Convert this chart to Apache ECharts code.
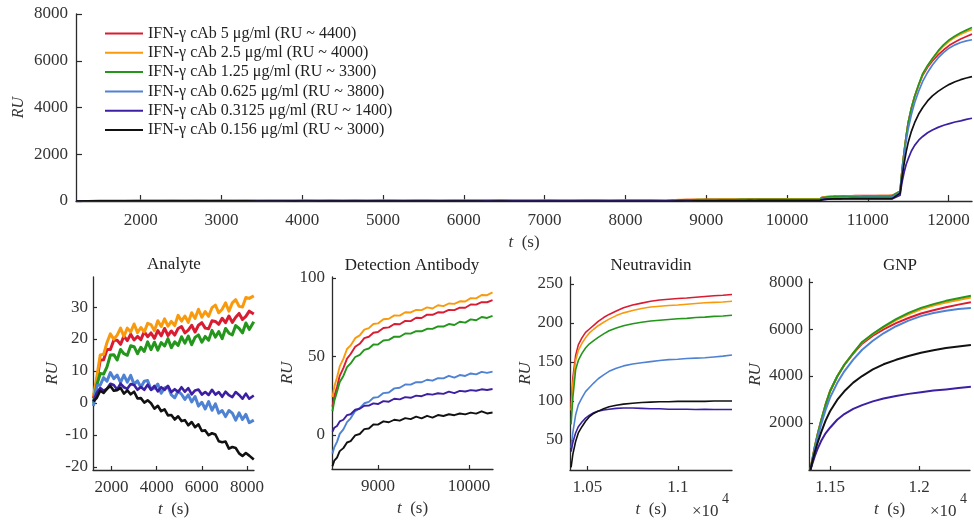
<!DOCTYPE html>
<html>
<head>
<meta charset="utf-8">
<script src="https://cdn.jsdelivr.net/npm/echarts@6/dist/echarts.min.js"></script>
<style>
html,body{margin:0;padding:0;background:#fff;}
#chart{width:974px;height:524px;}
</style>
</head>
<body>
<div id="chart"></div>
<script>
// ---------------- DATA ----------------
const seriesNames = [
  'IFN-γ cAb 5 μg/ml (RU ~ 4400)',
  'IFN-γ cAb 2.5 μg/ml (RU ~ 4000)',
  'IFN-γ cAb 1.25 μg/ml (RU ~ 3300)',
  'IFN-γ cAb 0.625 μg/ml (RU ~ 3800)',
  'IFN-γ cAb 0.3125 μg/ml (RU ~ 1400)',
  'IFN-γ cAb 0.156 μg/ml (RU ~ 3000)'
];
const panelTitles = ['Analyte', 'Detection Antibody', 'Neutravidin', 'GNP'];

// Analyte phase
const analyteTime = [1200,1350,1500,1650,1800,1950,2100,2250,2400,2550,2700,2850,3000,3150,3300,3450,3600,3750,3900,4050,4200,4350,4500,4650,4800,4950,5100,5250,5400,5550,5700,5850,6000,6150,6300,6450,6600,6750,6900,7050,7200,7350,7500,7650,7800,7950,8100,8300];
const analyte5    = [1.5,7,13.4,13.5,16.7,16.7,19.6,19.6,18.3,20.9,19.5,21.5,19.7,20.8,19.8,22.3,20.7,21.9,20.2,22.6,21,23.3,21.1,22.5,21.2,23.3,23.9,21.9,22.8,24.3,22.2,24.3,25.1,23.4,23.2,25.7,25.5,24.6,26.5,25.1,27.2,25.2,26.8,28,26.1,27.1,28.7,27.8];
const analyte2p5  = [2,8.2,15,15.2,18.9,21.6,19.9,21.2,23.4,20.8,23.4,22.2,24.7,22,23.6,22.2,24.9,24.5,22.6,25.7,23.9,26.3,24,25.5,24.2,27.4,25.6,27.2,25.2,28.2,26.4,29.3,26.8,28.6,27.1,29.8,30.6,28.2,29.3,31.3,28.7,31.3,32.3,30.2,30,33,32.7,33.5];
const analyte1p25 = [0,5.6,9.2,9,11.3,15,15.1,13.4,16.7,15.4,14.9,17.9,17.6,15.4,17.4,16.1,19.1,16.7,19,16.5,18.9,17.8,20.1,17.3,19.1,18,20.7,18.7,20.9,18.2,20.5,21.3,19,20.8,19.6,22.7,20.6,22.3,20.1,23.3,21.8,21.3,24.2,23.3,21.9,25,23,25.4];
const analyte0p625 = [-1,5.4,5.6,7.9,6.8,9.5,7.6,8.7,6.4,8.7,6.5,8.6,5.8,6.9,4.9,6.8,7,4.2,4.6,5.9,3,4.7,5.1,2.5,1.6,3.7,2.7,1.1,2.5,0.3,2,-1,0.2,-1.9,0.4,-2.3,-0.3,-3.2,-2.4,-4.3,-2.4,-3.2,-5.4,-3.1,-5.2,-3.6,-6.2,-5.4];
const analyte0p3125 = [0.5,3.2,4.7,3.8,4.4,6,5.6,4.2,6,4.9,4.4,5.9,5.6,4.1,5,4.1,5.7,4.1,5.3,3.6,4.9,4.1,5.3,3.4,4.3,3.4,4.9,3.5,4.6,2.7,3.9,4.2,2.6,3.4,2.5,4.1,2.6,3.4,1.9,3.5,2.4,1.8,3.4,2.5,1.3,2.9,1.3,2.3];
const analyte0p156 = [0.5,1.6,3.8,3.1,4.4,5.3,3.8,4,4.7,2.9,3.9,2.7,3.5,1.4,1.5,0.1,0.8,-0.1,-1.8,-0.9,-2.6,-2,-3.9,-3.8,-5.2,-4.2,-5.7,-5.4,-7,-6,-7.6,-6.7,-8.8,-8.6,-10.1,-9.5,-9.9,-12,-12.3,-12.1,-14.3,-13.8,-14.1,-15.8,-16.6,-15.7,-16.5,-17.7];

// Detection antibody phase
const daTime = [8500,8520,8550,8580,8620,8660,8700,8750,8800,8850,8900,8950,9000,9060,9120,9180,9240,9300,9360,9420,9480,9540,9600,9660,9720,9780,9840,9900,9960,10020,10080,10140,10200,10260];
const da5    = [18,24.5,30.5,37.6,42.5,48.6,51.5,56.1,58,61.6,62.5,65.1,65.5,68.1,68.5,70.6,70.5,72.6,72.5,74.6,74.5,76.6,76.5,78.1,78,79.6,79.5,81.1,81,83.1,83,84.6,84.5,85.8];
const da2p5  = [24,30.6,36.5,43.6,48.4,54.7,57,61.6,63.4,67.1,68,70.6,71,73.7,74,76.1,76,78.1,78,79.6,79.5,81.2,80.5,82.6,82,83.7,83.5,85.1,85,87.1,87,89.1,89,90.8];
const da1p25 = [15,21.5,27.5,33.6,37.5,43.1,45.5,49.6,51,54.1,55,57.6,57.5,60.1,60.5,62.6,62.5,64.6,64.5,66.1,66,67.6,67.5,69.1,69,70.6,70,72.1,71.5,73.6,73,75.1,74.5,75.8];
const da0p625 = [-12,-8,-4.5,0.6,3.5,8.1,10.5,15.1,17,20.1,21,23.6,24,26.6,27,29.6,30,32.1,32,33.6,33.5,35.1,34.5,36.1,36,37.6,36.5,38.1,37.5,39.1,38.5,40.1,39.5,40.3];
const da0p3125 = [2,4.5,5.6,8.5,9.6,12.5,13.1,16,16.6,18.5,18.6,20,19.6,21.5,21.1,23,22.6,24,23.6,25,24.6,26,25.6,26.5,26.1,27.5,26.6,28,27.6,28.5,28.1,29,28.6,29.2];
const da0p156 = [-20,-16.5,-14.5,-10.4,-8.5,-4.9,-4,-0.4,0.5,3.6,4,6.6,6.5,8.6,8,9.6,9,10.6,10,11.6,10.5,12.1,11,12.6,12,13.1,12.5,13.6,13,14.1,13.5,15,13.6,14.2];

// Neutravidin phase
const neutTime = [10410,10420,10435,10450,10470,10490,10510,10535,10560,10590,10620,10660,10700,10750,10800,10850,10900,10950,11000,11050,11100,11150,11200,11250,11300];
const neut5    = [95,130,158,172,181,188,192,197,202,207,211,215.5,219.5,223,225.5,228,229.5,230.5,231.5,232,233,234,235,235.5,236.5];
const neut2p5  = [88,122,152,165,174,181,187,192,196.5,201,205,209.5,213,216,218.5,220.5,221.5,222.5,223,224,225,226,226.5,227,228];
const neut1p25 = [70,105,140,152,161,168,173,177.5,181.5,186,190,193.5,196.5,199,201,202.5,203.5,204.5,205.5,206,207,207.5,208.5,209,210];
const neut0p625 = [40,60,82,95,104,112,117,123,128.5,133.5,138,142,145,147.5,149,150.5,152,153,153.5,154.5,155,155.5,156.5,157.5,159];
const neut0p3125 = [35,47,59,67,73,78,81.5,85,87,88.5,89.5,90.5,91,91,90.5,90,90,89.5,89.5,89.5,89,89.5,89,89,89];
const neut0p156 = [15,32,48,59,67,74,79.5,84,87,90,92.5,94.5,96,97,98,98.5,99,99,99.5,99.5,99.5,99.5,100,100,100];

// GNP phase
const gnpTime = [11390,11400,11415,11430,11450,11475,11500,11540,11580,11630,11680,11740,11800,11870,11940,12010,12080,12150,12220,12290];
const gnp5    = [0,420,1000,1500,2100,2780,3350,3980,4470,4950,5380,5720,5990,6250,6470,6660,6800,6930,7040,7140];
const gnp2p5  = [0,420,1000,1500,2100,2780,3350,3980,4480,4980,5430,5780,6070,6380,6630,6840,7000,7130,7240,7340];
const gnp1p25 = [0,420,1000,1500,2100,2780,3350,3980,4480,4980,5450,5800,6100,6420,6690,6900,7060,7200,7310,7420];
const gnp0p625 = [0,380,920,1380,1940,2560,3080,3700,4200,4700,5120,5500,5820,6120,6360,6550,6680,6780,6850,6900];
const gnp0p3125 = [0,250,600,900,1230,1560,1800,2140,2380,2600,2760,2920,3040,3150,3240,3310,3380,3430,3490,3540];
const gnp0p156 = [0,330,780,1150,1600,2100,2500,2980,3350,3720,4000,4280,4500,4690,4850,4990,5100,5190,5260,5320];

// Tick values
const topXTicks = [2000,3000,4000,5000,6000,7000,8000,9000,10000,11000,12000];
const topYTicks = [0,2000,4000,6000,8000];
const analyteXTicks = [2000,4000,6000,8000];
const analyteYTicks = [-20,-10,0,10,20,30];
const daXTicks = [9000,10000];
const daYTicks = [0,50,100];
const neutXTicks = [10500,11000];
const neutYTicks = [50,100,150,200,250];
const gnpXTicks = [11500,12000];
const gnpYTicks = [2000,4000,6000,8000];

// ---------------- STYLE / BUILD ----------------
const FONT = "'Liberation Serif','Times New Roman',serif";
const colors = ['#d91c32','#f99a0d','#23961b','#4f82d3','#3c1fa2','#111111'];
const analyteWidths = [3, 3, 3, 3, 2.6, 2.6];
const analyteSets = [analyte5, analyte2p5, analyte1p25, analyte0p625, analyte0p3125, analyte0p156];
const daSets = [da5, da2p5, da1p25, da0p625, da0p3125, da0p156];
const neutSets = [neut5, neut2p5, neut1p25, neut0p625, neut0p3125, neut0p156];
const gnpSets = [gnp5, gnp2p5, gnp1p25, gnp0p625, gnp0p3125, gnp0p156];

const pair = (ts, vs) => ts.map((t, i) => [t, vs[i]]);
const AX = '#2b2b2b';
const TXT = '#333333';

function valueAxis(o) {
  const ax = {
    type: 'value',
    gridIndex: o.grid,
    min: o.min, max: o.max,
    axisLine: { show: true, onZero: false, lineStyle: { color: AX, width: 1.3 } },
    axisTick: { show: true, inside: true, length: o.tickLen || 4, customValues: o.ticks, lineStyle: { color: AX, width: 1.2 } },
    axisLabel: { show: true, customValues: o.ticks, color: TXT, fontFamily: FONT, fontSize: 17, margin: o.margin,
                 formatter: o.fmt || (v => String(v)) },
    splitLine: { show: false },
    name: o.name || '',
    nameLocation: 'middle',
    nameGap: o.nameGap,
    nameTextStyle: o.nameStyle
  };
  if (o.noMove) ax.nameMoveOverlap = false;
  return ax;
}
const tName = '{i|t}  (s)';
const tStyle = { fontFamily: FONT, fontSize: 17, color: TXT, rich: { i: { fontFamily: FONT, fontSize: 17, fontStyle: 'italic', color: TXT } } };
const ruStyle = (fs) => ({ fontFamily: FONT, fontSize: fs, fontStyle: 'italic', color: TXT });
const e4 = v => String(v / 10000);

const grids = [
  { left: 76, top: 14, width: 896, height: 187 },
  { left: 93, top: 277, width: 161, height: 193 },
  { left: 332, top: 277, width: 161, height: 192 },
  { left: 570, top: 277, width: 162, height: 193 },
  { left: 809, top: 279, width: 161, height: 191 }
];

const xAxes = [
  valueAxis({ grid: 0, min: 1200, max: 12290, ticks: topXTicks, tickLen: 6, margin: 11, name: tName, nameGap: 33, nameStyle: tStyle }),
  valueAxis({ grid: 1, min: 1180, max: 8310, ticks: analyteXTicks, margin: 9, name: tName, nameGap: 31, nameStyle: tStyle }),
  valueAxis({ grid: 2, min: 8495, max: 10265, ticks: daXTicks, margin: 9, name: tName, nameGap: 31, nameStyle: tStyle }),
  valueAxis({ grid: 3, min: 10404, max: 11300, ticks: neutXTicks, margin: 9, fmt: e4, name: tName, nameGap: 31, nameStyle: tStyle }),
  valueAxis({ grid: 4, min: 11382, max: 12285, ticks: gnpXTicks, margin: 9, fmt: e4, name: tName, nameGap: 31, nameStyle: tStyle })
];
const yAxes = [
  valueAxis({ grid: 0, min: 0, max: 8000, ticks: topYTicks, tickLen: 6, margin: 8, name: 'RU', nameGap: 49, noMove: true, nameStyle: ruStyle(16) }),
  valueAxis({ grid: 1, min: -21, max: 39.4, ticks: analyteYTicks, margin: 5, name: 'RU', nameGap: 31, nameStyle: ruStyle(17) }),
  valueAxis({ grid: 2, min: -21.8, max: 100.6, ticks: daYTicks, margin: 7, name: 'RU', nameGap: 35, nameStyle: ruStyle(17) }),
  valueAxis({ grid: 3, min: 11.5, max: 259, ticks: neutYTicks, margin: 7, name: 'RU', nameGap: 34, nameStyle: ruStyle(17) }),
  valueAxis({ grid: 4, min: 0, max: 8130, ticks: gnpYTicks, margin: 6, name: 'RU', nameGap: 45, nameStyle: ruStyle(17) })
];

const series = [];
function addLine(gi, name, color, data, w) {
  series.push({ type: 'line', name, xAxisIndex: gi, yAxisIndex: gi, data, showSymbol: false, symbol: 'none',
    lineStyle: { color, width: w, join: 'round' }, itemStyle: { color }, animation: false, silent: true, clip: true });
}
for (let k = 0; k < 6; k++) {
  const topT = analyteTime.concat(daTime, neutTime, gnpTime.slice(1));
  const topV = analyteSets[k].concat(daSets[k], neutSets[k], gnpSets[k].slice(1));
  addLine(0, seriesNames[k], colors[k], pair(topT, topV), 1.7);
  addLine(1, seriesNames[k], colors[k], pair(analyteTime, analyteSets[k]), analyteWidths[k]);
  addLine(2, seriesNames[k], colors[k], pair(daTime, daSets[k]), 1.9);
  addLine(3, seriesNames[k], colors[k], pair(neutTime, neutSets[k]), 1.6);
  addLine(4, seriesNames[k], colors[k], pair(gnpTime, gnpSets[k]), 2);
}

const titleCenters = [[174, 265], [412, 266], [651, 266], [900, 266]];
const graphics = panelTitles.map((t, i) => ({
  type: 'text', x: titleCenters[i][0], y: titleCenters[i][1], silent: true,
  style: { text: t, fill: '#222', font: '17px ' + FONT, textAlign: 'center', textVerticalAlign: 'middle' }
}));
[[692, 512], [930, 512]].forEach(p => {
  graphics.push({ type: 'text', x: p[0], y: p[1], silent: true,
    style: { text: '×10', fill: TXT, font: '17px ' + FONT, textAlign: 'left', textVerticalAlign: 'middle' } });
  graphics.push({ type: 'text', x: p[0] + 30, y: p[1] - 13, silent: true,
    style: { text: '4', fill: TXT, font: '14px ' + FONT, textAlign: 'left', textVerticalAlign: 'middle' } });
});

const chart = echarts.init(document.getElementById('chart'), null, { renderer: 'canvas' });
chart.setOption({
  animation: false,
  backgroundColor: '#ffffff',
  grid: grids,
  xAxis: xAxes,
  yAxis: yAxes,
  legend: {
    data: seriesNames,
    orient: 'vertical',
    left: 100, top: 20.5,
    icon: 'rect', itemWidth: 38, itemHeight: 2, itemGap: 3.3,
    selectedMode: false,
    textStyle: { fontFamily: FONT, fontSize: 16, color: '#222', lineHeight: 16 }
  },
  graphic: graphics,
  series
});
</script>
</body>
</html>
